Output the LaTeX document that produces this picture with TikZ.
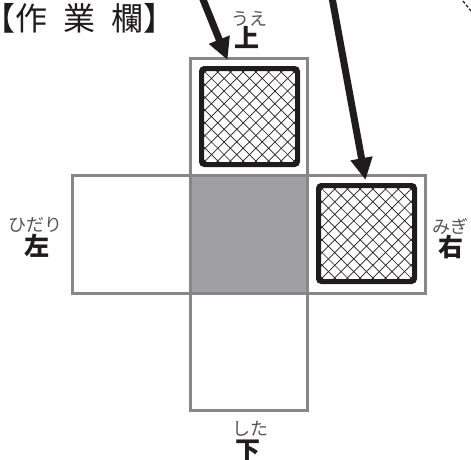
\documentclass[tikz,border=0pt]{standalone}
\usepackage{fontspec}
\setmainfont{Noto Sans CJK JP}
\newfontfamily\jpfont{Noto Sans CJK JP}
\usetikzlibrary{arrows.meta}
\definecolor{cellgray}{RGB}{135,135,137}
\definecolor{centerfill}{RGB}{160,160,162}
\definecolor{rubygray}{RGB}{85,85,85}
\definecolor{inkblack}{RGB}{30,28,28}
\tikzset{
  cell/.style={draw=cellgray, line width=3pt, minimum size=117.5pt, inner sep=0pt, shape=rectangle},
  hatchline/.style={line width=0.7pt, inkblack},
  hatchbox/.style={draw=inkblack, fill=white, line width=5pt, rounded corners=3pt, minimum size=96pt, inner sep=0pt, shape=rectangle,
    path picture={
      \foreach \i in {-9,...,9} {
        \draw[hatchline] ([xshift=\i*12.7pt]path picture bounding box.center) ++(-80,-80) -- ++(160,160);
        \draw[hatchline] ([xshift=\i*12.7pt]path picture bounding box.center) ++(-80,80) -- ++(160,-160);
      }
    }},
  ruby/.style={font=\jpfont\fontsize{18pt}{18pt}\selectfont, text=rubygray, inner sep=0pt},
  dirlabel/.style={font=\jpfont\bfseries\fontsize{25pt}{25pt}\selectfont, text=inkblack, inner sep=0pt},
  title/.style={font=\jpfont\fontsize{32pt}{32pt}\selectfont, text=inkblack, inner sep=0pt},
  bigarrow/.style={line width=7pt, inkblack, -{Triangle[length=22pt,width=21pt]}}
}
\begin{document}
\begin{tikzpicture}[x=1pt,y=-1pt]
\useasboundingbox (0,0) rectangle (471,459);
% grid cells
\node[cell, fill=centerfill] (center) at (249,234.5) {};
\node[cell] (top) at (249,117) {};
\node[cell] (left) at (131.5,234.5) {};
\node[cell] (right) at (366.5,234.5) {};
\node[cell] (bottom) at (249,352) {};
% hatched squares
\node[hatchbox] (tophatch) at (249.5,116.5) {};
\node[hatchbox] (righthatch) at (366.5,233.5) {};
% labels
\node[title, anchor=west] (worktitle) at (-17,18) {【作\hspace{0.5em}業\hspace{0.5em}欄】};
\node[ruby] (ueruby) at (249,19) {うえ};
\node[dirlabel] (ue) at (247,38) {上};
\node[ruby] (hidariruby) at (36,225) {ひだり};
\node[dirlabel] (hidari) at (37,246) {左};
\node[ruby] (migiruby) at (450,226) {みぎ};
\node[dirlabel] (migi) at (451,247) {右};
\node[ruby] (shitaruby) at (250,429) {した};
\node[dirlabel] (shita) at (248,451) {下};
% arrows
\coordinate (a1s) at (200,-8);
\coordinate (a2s) at (331,-8);
\draw[bigarrow] (a1s) -- ([xshift=-22pt,yshift=6pt]tophatch.north);
\draw[bigarrow] (a2s) -- ([xshift=-1pt,yshift=3pt]righthatch.north);
% dashed fragment at top right
\coordinate (fragA) at (463,1);
\coordinate (fragB) at (471,11);
\draw[inkblack, line width=1.3pt, dash pattern=on 3pt off 2pt] (fragA) -- (fragB);
\end{tikzpicture}
\end{document}
